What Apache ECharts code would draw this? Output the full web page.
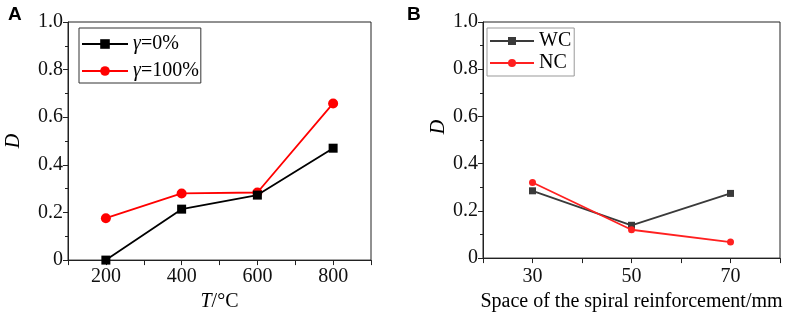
<!DOCTYPE html>
<html>
<head>
<meta charset="utf-8">
<script src="https://cdn.jsdelivr.net/npm/echarts@6/dist/echarts.min.js"></script>
<style>html,body{margin:0;padding:0;background:#fff}#c{width:789px;height:317px}</style>
</head>
<body>
<div id="c"></div>
<script>
// Panel A data
var tempsA = [200, 400, 600, 800];
var gamma0 = [0.0, 0.214, 0.273, 0.47];
var gamma100 = [0.176, 0.28, 0.284, 0.658];
var namesA = ['γ=0%', 'γ=100%'];
var xTicksA = [200, 400, 600, 800];
// Panel B data
var spacingB = [30, 50, 70];
var wc = [0.285, 0.139, 0.274];
var nc = [0.32, 0.12, 0.068];
var namesB = ['WC', 'NC'];
var xTicksB = [30, 50, 70];
var yTicks = [0, 0.2, 0.4, 0.6, 0.8, 1.0];

var serif = 'Liberation Serif';
var axisCol = '#222';

function pairs(xs, ys){ return xs.map(function(x,i){ return [x, ys[i]]; }); }
function yFmt(v){ return v === 0 ? '0' : v.toFixed(1); }

var chart = echarts.init(document.getElementById('c'));
function yAxisCfg(gridIndex, nameGap, pad){
  return {
    gridIndex: gridIndex, type: 'value', min: 0, max: 1, interval: 0.2,
    name: 'D', nameLocation: 'middle', nameGap: nameGap,
    nameTextStyle: {fontFamily: serif, fontStyle: 'italic', fontSize: 20, color: '#000', padding: pad},
    axisLine: {show: true, lineStyle: {color: axisCol, width: 1}},
    axisTick: {show: true, length: 5, lineStyle: {color: axisCol}},
    minorTick: {show: true, splitNumber: 2, length: 3, lineStyle: {color: axisCol}},
    splitLine: {show: false},
    axisLabel: {fontFamily: serif, fontSize: 20, color: '#111', margin: 5,
      formatter: function(v){ return yTicks.some(function(t){return Math.abs(t-v)<1e-9;}) ? yFmt(v) : ''; }}
  };
}
var option = {
  animation: false,
  backgroundColor: '#fff',
  grid: [
    {left: 68, right: 418, top: 22, bottom: 51, show: true, borderColor: axisCol, borderWidth: 1},
    {left: 483, right: 9, top: 22, bottom: 55, show: true, borderColor: axisCol, borderWidth: 1}
  ],
  title: [
    {text: 'A', left: 3, top: 0, textStyle: {fontFamily: 'Liberation Sans', fontWeight: 'bold', fontSize: 19, color: '#000'}},
    {text: 'B', left: 402, top: 0, textStyle: {fontFamily: 'Liberation Sans', fontWeight: 'bold', fontSize: 19, color: '#000'}}
  ],
  xAxis: [
    {gridIndex: 0, type: 'value', min: 100, max: 900, interval: 100,
     name: '{i|T}/°C', nameLocation: 'middle', nameGap: 26,
     nameTextStyle: {fontFamily: serif, fontSize: 20, color: '#000',
       rich: {i: {fontFamily: serif, fontStyle: 'italic', fontSize: 20, color: '#000'}}},
     axisLine: {show: true, onZero: false, lineStyle: {color: axisCol, width: 1}},
     axisTick: {show: true, length: 5, lineStyle: {color: axisCol}},
     splitLine: {show: false},
     axisLabel: {fontFamily: serif, fontSize: 20, color: '#111', margin: 7,
       formatter: function(v){ return xTicksA.indexOf(v) >= 0 ? String(v) : ''; }}
    },
    {gridIndex: 1, type: 'value', min: 20, max: 80, interval: 10,
     name: 'Space of the spiral reinforcement/mm', nameLocation: 'middle', nameGap: 30,
     nameTextStyle: {fontFamily: serif, fontSize: 20, color: '#000'},
     axisLine: {show: true, onZero: false, lineStyle: {color: axisCol, width: 1}},
     axisTick: {show: true, length: 5, lineStyle: {color: axisCol}},
     splitLine: {show: false},
     axisLabel: {fontFamily: serif, fontSize: 20, color: '#111', margin: 9,
       formatter: function(v){ return xTicksB.indexOf(v) >= 0 ? String(v) : ''; }}
    }
  ],
  yAxis: [yAxisCfg(0, 44, [0, 0, 0, 0]), yAxisCfg(1, 34, [0, 0, 0, 26])],
  legend: [
    {data: namesA, orient: 'vertical', left: 79, top: 28, itemWidth: 46, itemHeight: 12, itemGap: 7,
     padding: [6, 2, 2, 2], borderColor: '#333', borderWidth: 1,
     formatter: function(n){ return '{i|γ}' + n.slice(1); },
     textStyle: {fontFamily: serif, fontSize: 20, color: '#000',
       rich: {i: {fontFamily: serif, fontStyle: 'italic', fontSize: 20, color: '#000'}}}},
    {data: namesB, orient: 'vertical', left: 487, top: 28, itemWidth: 44, itemHeight: 10, itemGap: 2,
     padding: [3, 3, 3, 2], borderColor: '#999', borderWidth: 1,
     textStyle: {fontFamily: serif, fontSize: 20, color: '#000'}}
  ],
  series: [
    {name: namesA[0], type: 'line', xAxisIndex: 0, yAxisIndex: 0, data: pairs(tempsA, gamma0),
     symbol: 'rect', symbolSize: 9, color: '#000', lineStyle: {color: '#000', width: 1.8},
     itemStyle: {color: '#000'}, z: 3},
    {name: namesA[1], type: 'line', xAxisIndex: 0, yAxisIndex: 0, data: pairs(tempsA, gamma100),
     symbol: 'circle', symbolSize: 10, color: '#ff0000', lineStyle: {color: '#ff0000', width: 1.8},
     itemStyle: {color: '#ff0000'}, z: 2},
    {name: namesB[0], type: 'line', xAxisIndex: 1, yAxisIndex: 1, data: pairs(spacingB, wc),
     symbol: 'rect', symbolSize: 7, color: '#3a3a3a', lineStyle: {color: '#3a3a3a', width: 1.8},
     itemStyle: {color: '#3a3a3a'}, z: 2},
    {name: namesB[1], type: 'line', xAxisIndex: 1, yAxisIndex: 1, data: pairs(spacingB, nc),
     symbol: 'circle', symbolSize: 7, color: '#ff2020', lineStyle: {color: '#ff2020', width: 1.8},
     itemStyle: {color: '#ff2020'}, z: 3}
  ]
};
chart.setOption(option);
</script>
</body>
</html>
